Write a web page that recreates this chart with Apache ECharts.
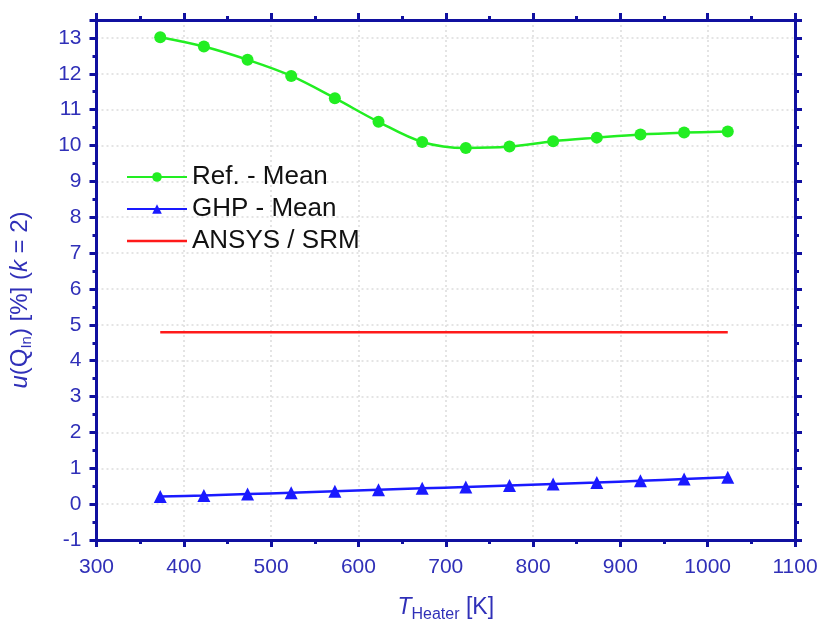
<!DOCTYPE html>
<html>
<head>
<meta charset="utf-8">
<script src="https://cdn.jsdelivr.net/npm/echarts@6/dist/echarts.min.js"></script>
<style>html,body{margin:0;padding:0;background:#fff}#c{width:821px;height:628px}</style>
</head>
<body>
<div id="c"></div>
<script>
var temps = [373, 423, 473, 523, 573, 623, 673, 723, 773, 823, 873, 923, 973, 1023];
var refMean = [13.02, 12.76, 12.39, 11.94, 11.32, 10.66, 10.10, 9.93, 9.97, 10.12, 10.22, 10.31, 10.36, 10.39];
var ghpMean = [0.21, 0.24, 0.28, 0.32, 0.36, 0.40, 0.44, 0.48, 0.52, 0.56, 0.60, 0.65, 0.70, 0.75];
var ansysX = [373, 1023];
var ansysSRM = [4.79, 4.79];
var seriesNames = ['Ref. - Mean', 'GHP - Mean', 'ANSYS / SRM'];

var axisColor = '#1010a0';
var labelColor = '#3030b8';
var font = 'Liberation Sans, Arial';
function pairs(xs, ys){ return xs.map(function(x,i){ return [x, ys[i]]; }); }

var baseX = {
  type: 'value', min: 300, max: 1100, interval: 100,
  axisLine: {show: true, onZero: false, lineStyle: {color: axisColor, width: 3}},
  axisTick: {show: true, inside: false, length: 7, lineStyle: {color: axisColor, width: 3}},
  minorTick: {show: true, splitNumber: 2, length: 4, lineStyle: {color: axisColor, width: 3}},
  splitLine: {show: false}, minorSplitLine: {show: false}
};
var baseY = {
  type: 'value', min: -1, max: 13.5, interval: 1,
  axisLine: {show: true, onZero: false, lineStyle: {color: axisColor, width: 3}},
  axisTick: {show: true, inside: false, length: 7, lineStyle: {color: axisColor, width: 3}},
  minorTick: {show: true, splitNumber: 2, length: 4, lineStyle: {color: axisColor, width: 3}},
  splitLine: {show: false}, minorSplitLine: {show: false}
};
function merge(a, b){ var o = JSON.parse(JSON.stringify(a)); for (var k in b) o[k] = b[k]; return o; }

var chart = echarts.init(document.getElementById('c'), null, {renderer: 'canvas'});
chart.setOption({
  backgroundColor: '#ffffff',
  animation: false,
  grid: {left: 95, top: 20, right: 26, bottom: 87, containLabel: false},
  legend: {
    orient: 'vertical', left: 121, top: 159,
    itemWidth: 60, itemHeight: 12, itemGap: 6,
    textStyle: {fontFamily: font, fontSize: 26, color: '#111'},
    data: [
      {name: seriesNames[0]},
      {name: seriesNames[1]},
      {name: seriesNames[2], icon: 'path://M0,0L60,0L60,2.5L0,2.5Z'}
    ]
  },
  xAxis: [
    merge(baseX, {
      position: 'bottom',
      axisLabel: {show: true, color: labelColor, fontSize: 21, fontFamily: font, margin: 17,
        formatter: function(v){ return String(v); }},
      splitLine: {show: true, lineStyle: {color: '#dcdcdc', type: [2, 3], width: 1.5}},
      name: '{i|T}{sub|Heater} [K]', nameLocation: 'middle', nameGap: 52,
      nameTextStyle: {
        color: labelColor, fontFamily: font, fontSize: 23,
        rich: {
          i: {fontStyle: 'italic', fontSize: 23, color: labelColor, fontFamily: font},
          sub: {fontSize: 16, color: labelColor, fontFamily: font, padding: [15, 0, 0, 0]}
        }
      }
    }),
    merge(baseX, {position: 'top', axisLabel: {show: false}})
  ],
  yAxis: [
    merge(baseY, {
      position: 'left',
      axisLabel: {show: true, color: labelColor, fontSize: 21, fontFamily: font, margin: 15,
        formatter: function(v){ return Number.isInteger(v) ? String(v) : ''; }},
      splitLine: {show: true, lineStyle: {color: '#dcdcdc', type: [2, 3], width: 1.5}},
      name: '{i|u}(Q{sub|In}) [%] ({i|k} = 2)', nameLocation: 'middle', nameGap: 62,
      nameTextStyle: {
        color: labelColor, fontFamily: font, fontSize: 24, padding: [0, 40, 0, 0],
        rich: {
          i: {fontStyle: 'italic', fontSize: 24, color: labelColor, fontFamily: font},
          sub: {fontSize: 15, color: labelColor, fontFamily: font, padding: [14, 0, 0, 0]}
        }
      }
    }),
    merge(baseY, {position: 'right', axisLabel: {show: false}})
  ],
  series: [
    {
      name: seriesNames[0], type: 'line', xAxisIndex: 0, yAxisIndex: 0,
      data: pairs(temps, refMean), smooth: 0.35,
      symbol: 'circle', symbolSize: 12,
      lineStyle: {color: '#22ee22', width: 2.5}, itemStyle: {color: '#22ee22'}
    },
    {
      name: seriesNames[1], type: 'line', xAxisIndex: 0, yAxisIndex: 0,
      data: pairs(temps, ghpMean), smooth: 0.3,
      symbol: 'triangle', symbolSize: 13,
      lineStyle: {color: '#1a1aff', width: 2.5}, itemStyle: {color: '#1a1aff'}
    },
    {
      name: seriesNames[2], type: 'line', xAxisIndex: 0, yAxisIndex: 0,
      data: pairs(ansysX, ansysSRM), symbol: 'none',
      lineStyle: {color: '#ff1a1a', width: 2.5}, itemStyle: {color: '#ff1a1a'}
    }
  ]
});
</script>
</body>
</html>
